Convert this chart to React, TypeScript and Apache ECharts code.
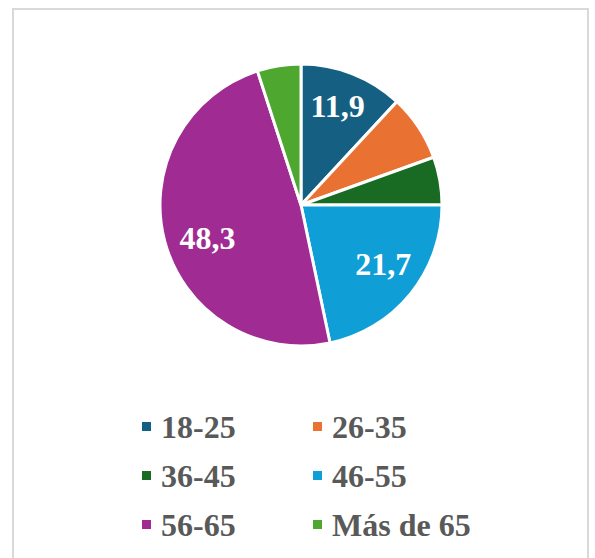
import React, { useEffect, useRef } from "react";
import * as echarts from "echarts";

const categories = ["18-25", "26-35", "36-45", "46-55", "56-65", "Más de 65"];
const values = [11.9, 7.6, 5.5, 21.7, 48.3, 5.0];
const shownLabels = ["18-25", "46-55", "56-65"];
const colors = ["#156082", "#e97132", "#196b24", "#0f9ed5", "#a02b93", "#4ea72e"];
const labelOffsets: Record<string, number[]> = {
  "18-25": [-2, 0],
  "46-55": [0, -8],
  "56-65": [9, 6],
};

const FONT = "Times New Roman, Liberation Serif, DejaVu Serif, serif";

export default function App() {
  const ref = useRef<HTMLDivElement>(null);
  useEffect(() => {
    if (!ref.current) return;
    const chart = echarts.init(ref.current, null, { renderer: "svg" });
    const data = categories.map((c, i) => ({
      name: c,
      value: values[i],
      itemStyle: { color: colors[i] },
    }));
    chart.setOption({
      animation: false,
      backgroundColor: "#ffffff",
      graphic: [
        {
          type: "rect",
          shape: { x: 13, y: 9, width: 575, height: 560 },
          style: { fill: "none", stroke: "#d9d9d9", lineWidth: 2 },
          silent: true,
        },
      ],
      legend: {
        data: categories,
        left: 135,
        top: 397,
        width: 345,
        orient: "horizontal",
        itemWidth: 11,
        itemHeight: 11,
        itemGap: 0,
        icon: "rect",
        textStyle: {
          fontFamily: FONT,
          fontWeight: "bold",
          fontSize: 32,
          color: "#595959",
          width: 150,
          lineHeight: 49,
          padding: [0, 0, 0, 4],
        },
        selectedMode: false,
      },
      series: [
        {
          type: "pie",
          center: [301, 205],
          radius: [0, 141],
          startAngle: 90,
          clockwise: true,
          silent: true,
          label: { show: false },
          labelLine: { show: false },
          itemStyle: { borderColor: "#ffffff", borderWidth: 3 },
          data,
        },
        {
          type: "pie",
          center: [301, 205],
          radius: [0, 206],
          startAngle: 90,
          clockwise: true,
          silent: true,
          itemStyle: { color: "rgba(0,0,0,0)", borderWidth: 0 },
          label: {
            show: true,
            position: "inside",
            fontFamily: FONT,
            fontWeight: "bold",
            fontSize: 32,
            color: "#ffffff",
          },
          labelLine: { show: false },
          data: categories.map((c, i) => ({
            name: c,
            value: values[i],
            label: shownLabels.includes(c)
              ? {
                  show: true,
                  formatter: values[i].toFixed(1).replace(".", ","),
                  offset: labelOffsets[c],
                }
              : { show: false },
          })),
        },
      ],
    });
    return () => chart.dispose();
  }, []);
  return (
    <div
      ref={ref}
      style={{ position: "fixed", left: 0, top: 0, width: 595, height: 558 }}
    />
  );
}
